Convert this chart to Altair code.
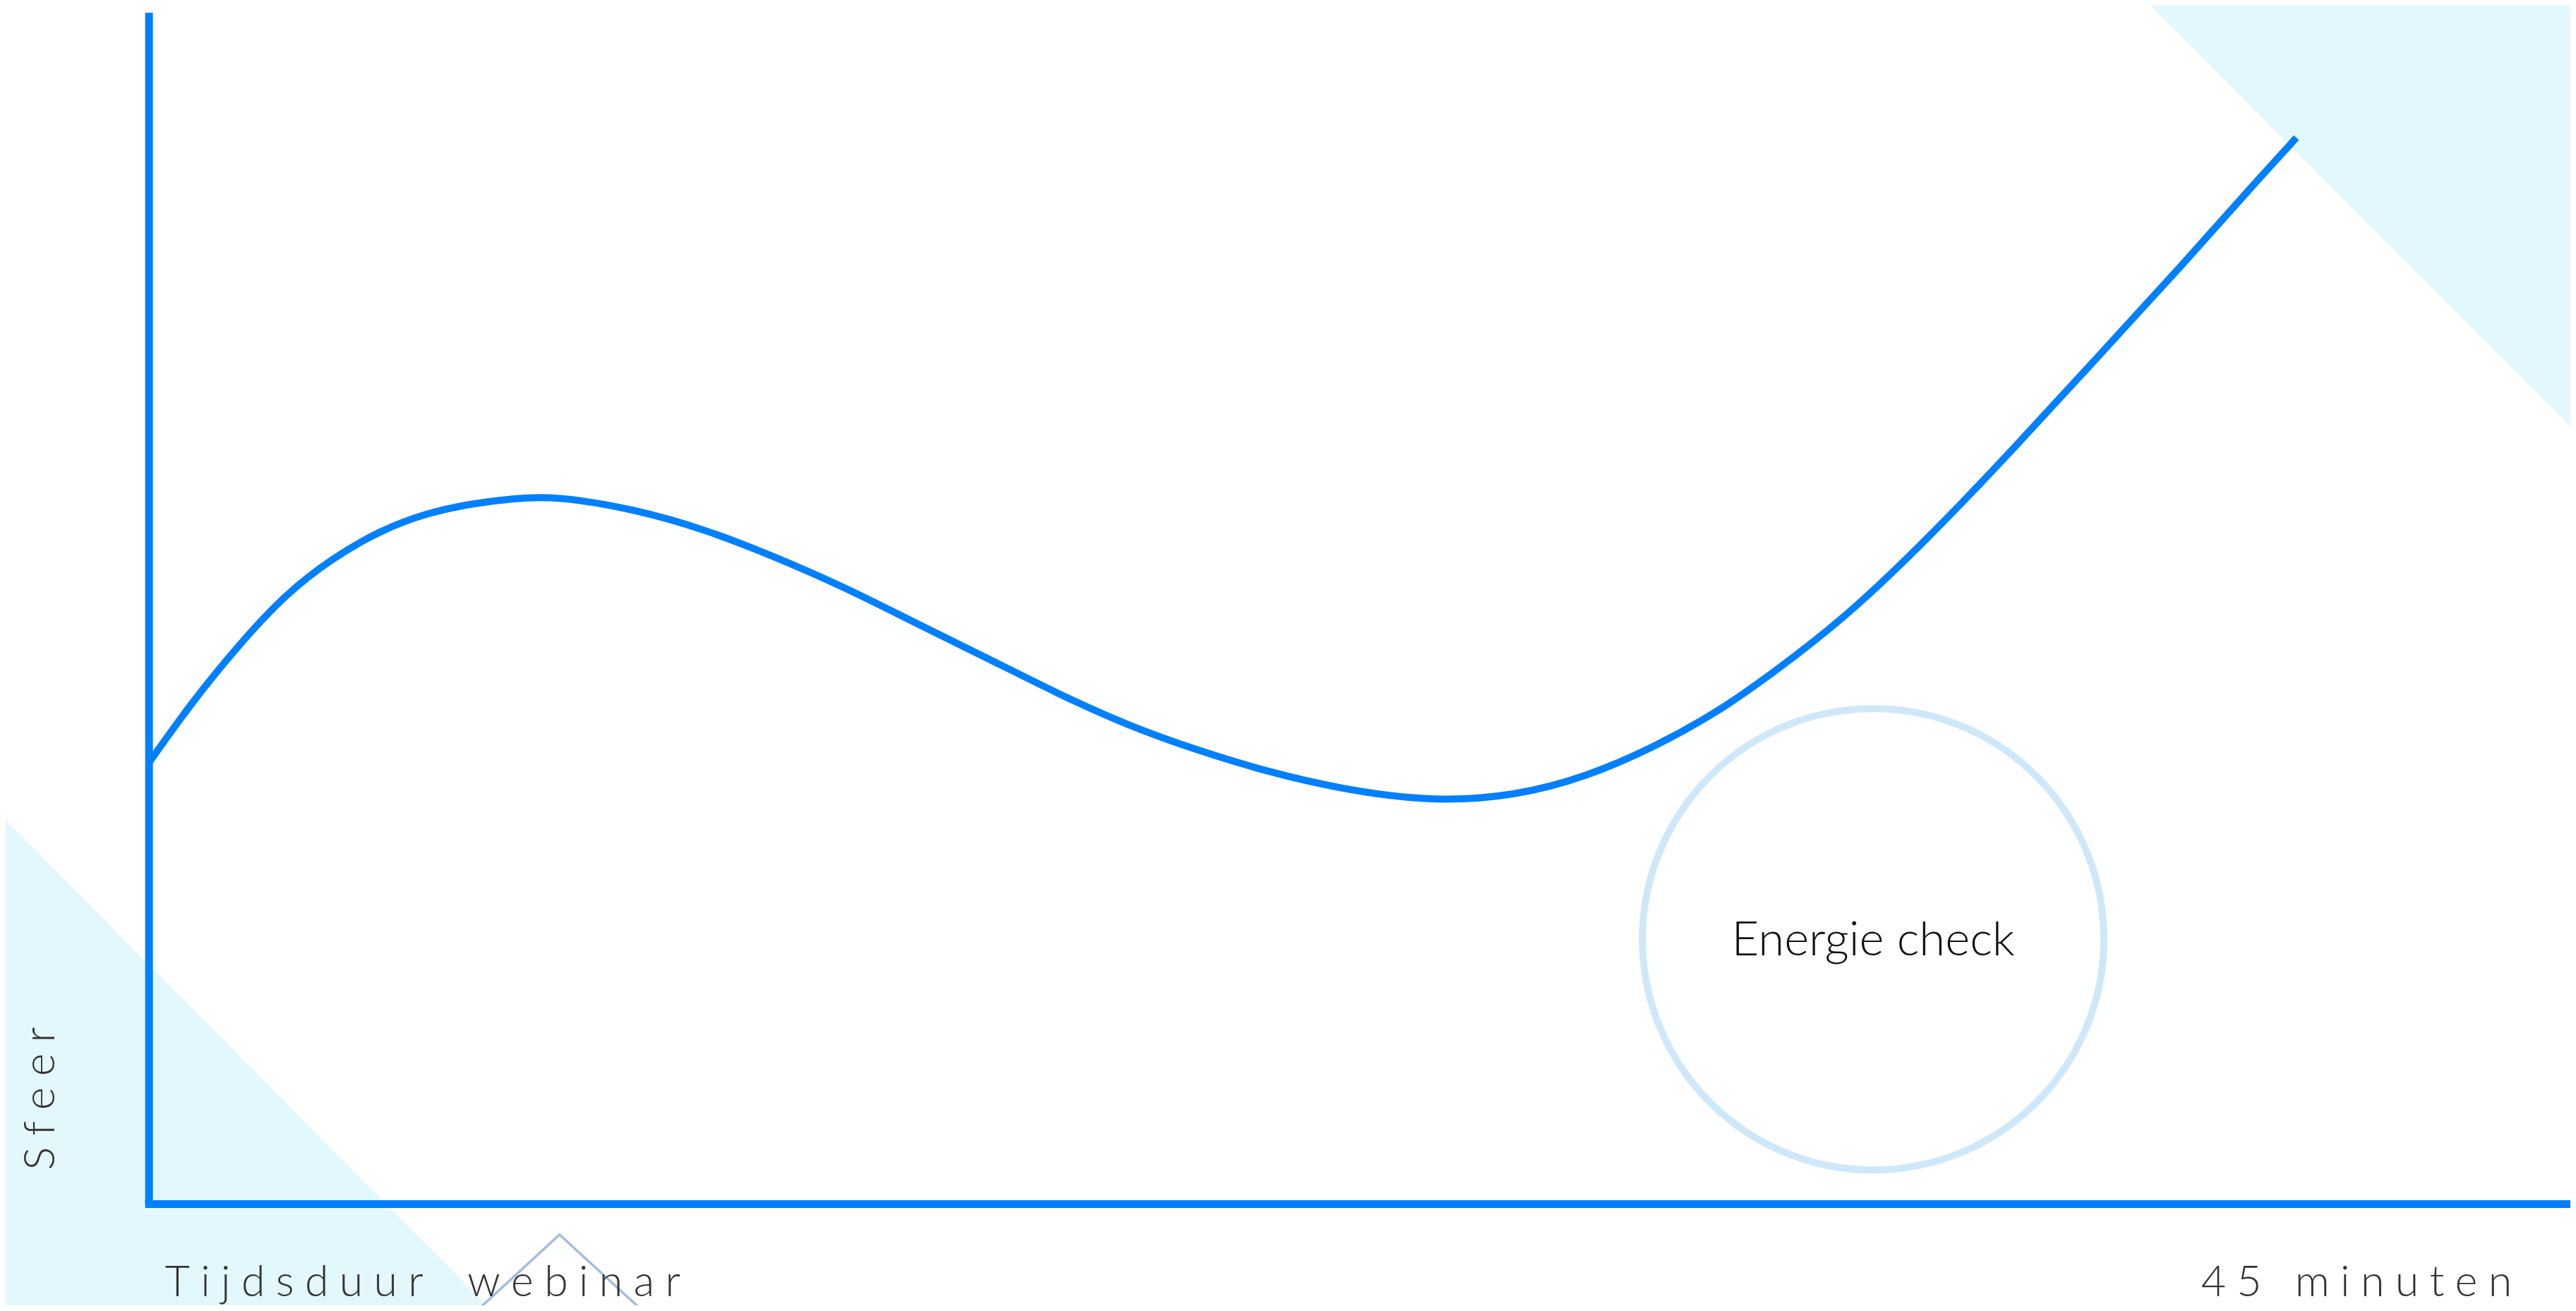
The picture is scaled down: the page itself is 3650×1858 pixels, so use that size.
import altair as alt
import pandas as pd

# ---- curve: "sfeer" (mood) over webinar time in minutes ----
minutes = [0, 0.81, 1.69, 2.58, 3.46, 4.35, 5.24, 6.12, 6.86, 7.66, 9.14, 10.47,
           11.79, 13.12, 14.45, 15.78, 17.11, 18.44, 19.76, 21.09, 22.42, 24.15,
           25.74, 27.07, 28.40, 29.72, 31.05, 32.12, 33.63, 35.16, 36.68, 38.21,
           39.74, 40.44]
sfeer = [37.1, 42.2, 47.0, 51.3, 54.3, 56.6, 58.1, 58.9, 59.3, 59.5, 58.4, 56.7,
         54.4, 51.8, 48.8, 45.9, 42.9, 40.2, 38.1, 36.3, 34.9, 33.8,
         34.3, 35.9, 38.5, 41.8, 46.2, 50.0, 56.5, 63.7, 71.1, 78.5,
         86.2, 89.6]

# ---- annotation: energy check circle ----
check_label = ["Energie check"]
check_x = [32.47]
check_y = [22.26]
check_text_y = [20.9]

# ---- axis titles ----
x_title_left = ["Tijdsduur", "webinar"]
x_title_right = "45 minuten"
y_title = "Sfeer"
title_x = [0.30, 44.5]
title_y = [-7.75, -7.75]
ytitle_x = [-1.78]
ytitle_y = [8.87]

# ---- decorative background shapes (data units) ----
tri_bl_x = [-2.81, 6.46]
tri_bl_y = [-9.0, -9.0]
tri_bl_y2 = [32.76, -8.97]
tri_tr_x = [37.58, 45.70]
tri_tr_y = [101.2, 101.2]
tri_tr_y2 = [101.2, 64.89]
diamond_x = [6.10, 7.73, 9.37]
diamond_y = [-9.26, -2.56, -9.26]

# axis extents
x_axis_end = 45.6
y_axis_top = 100.1

BLUE = "#0080FF"
CYAN = "#E3F8FC"
FONT = "Lato"
SP = "\u2005"


def spaced(s):
    return SP.join(list(s))


xs = alt.Scale(domain=[-2.7, 45.6], nice=False, zero=False)
ys = alt.Scale(domain=[-8.5, 100.7], nice=False, zero=False)


def X(field="x"):
    return alt.X(f"{field}:Q", scale=xs, axis=None)


def Y(field="y"):
    return alt.Y(f"{field}:Q", scale=ys, axis=None)


tri_bl = alt.Chart(pd.DataFrame({"x": tri_bl_x, "y": tri_bl_y, "y2": tri_bl_y2})).mark_area(
    color=CYAN, clip=True, opacity=1
).encode(x=X(), y=Y(), y2="y2:Q")

tri_tr = alt.Chart(pd.DataFrame({"x": tri_tr_x, "y": tri_tr_y, "y2": tri_tr_y2})).mark_area(
    color=CYAN, clip=True, opacity=1
).encode(x=X(), y=Y(), y2="y2:Q")

diamond = alt.Chart(pd.DataFrame({"x": diamond_x, "y": diamond_y, "o": [0, 1, 2]})).mark_line(
    color="#A3BCDD", strokeWidth=3.5, strokeJoin="round", clip=True
).encode(x=X(), y=Y(), order="o:Q")

# Vega circle symbol: size = diameter^2
circle = alt.Chart(pd.DataFrame({"x": check_x, "y": check_y})).mark_point(
    shape="circle", filled=False, size=427716, strokeWidth=10, color="#CFE8F9", opacity=1
).encode(x=X(), y=Y())

check_txt = alt.Chart(pd.DataFrame({"x": check_x, "y": check_text_y, "t": check_label})).mark_text(
    font=FONT, fontWeight=300, fontSize=67, color="#111111", align="center", baseline="alphabetic"
).encode(x=X(), y=Y(), text="t:N")

y_axis = alt.Chart(pd.DataFrame({"x": [0], "y": [0], "y2": [y_axis_top]})).mark_rule(
    color=BLUE, strokeWidth=11
).encode(x=X(), y=Y(), y2="y2:Q")

x_axis = alt.Chart(pd.DataFrame({"x": [0], "x2": [x_axis_end], "y": [0]})).mark_rule(
    color=BLUE, strokeWidth=11, strokeCap="square"
).encode(x=X(), x2="x2:Q", y=Y())

curve = alt.Chart(pd.DataFrame({"x": minutes, "y": sfeer})).mark_line(
    color=BLUE, strokeWidth=10, interpolate="basis"
).encode(x=X(), y=Y())

left_text = (SP + " " + SP + SP).join(spaced(w) for w in x_title_left)

left_title = alt.Chart(pd.DataFrame({"x": [title_x[0]], "y": [title_y[0]], "t": [left_text]})).mark_text(
    font=FONT, fontWeight=300, fontSize=61, color="#333333", align="left", baseline="alphabetic"
).encode(x=X(), y=Y(), text="t:N")

right_title = alt.Chart(pd.DataFrame({"x": [title_x[1]], "y": [title_y[1]], "t": [spaced(x_title_right)]})).mark_text(
    font=FONT, fontWeight=300, fontSize=61, color="#333333", align="right", baseline="alphabetic"
).encode(x=X(), y=Y(), text="t:N")

y_title_txt = alt.Chart(pd.DataFrame({"x": ytitle_x, "y": ytitle_y, "t": [spaced(y_title)]})).mark_text(
    font=FONT, fontWeight=300, fontSize=62, color="#333333", align="center", baseline="alphabetic",
    angle=270
).encode(x=X(), y=Y(), text="t:N")

chart = alt.layer(
    tri_bl, tri_tr, diamond, circle, check_txt, y_axis, x_axis, curve,
    left_title, right_title, y_title_txt
).properties(
    width=3634, height=1842, autosize=alt.AutoSizeParams(type="none"), padding=0,
    background="white"
).configure_view(strokeWidth=0)

chart.save("out.html", embed_options={"renderer": "svg", "actions": False})
